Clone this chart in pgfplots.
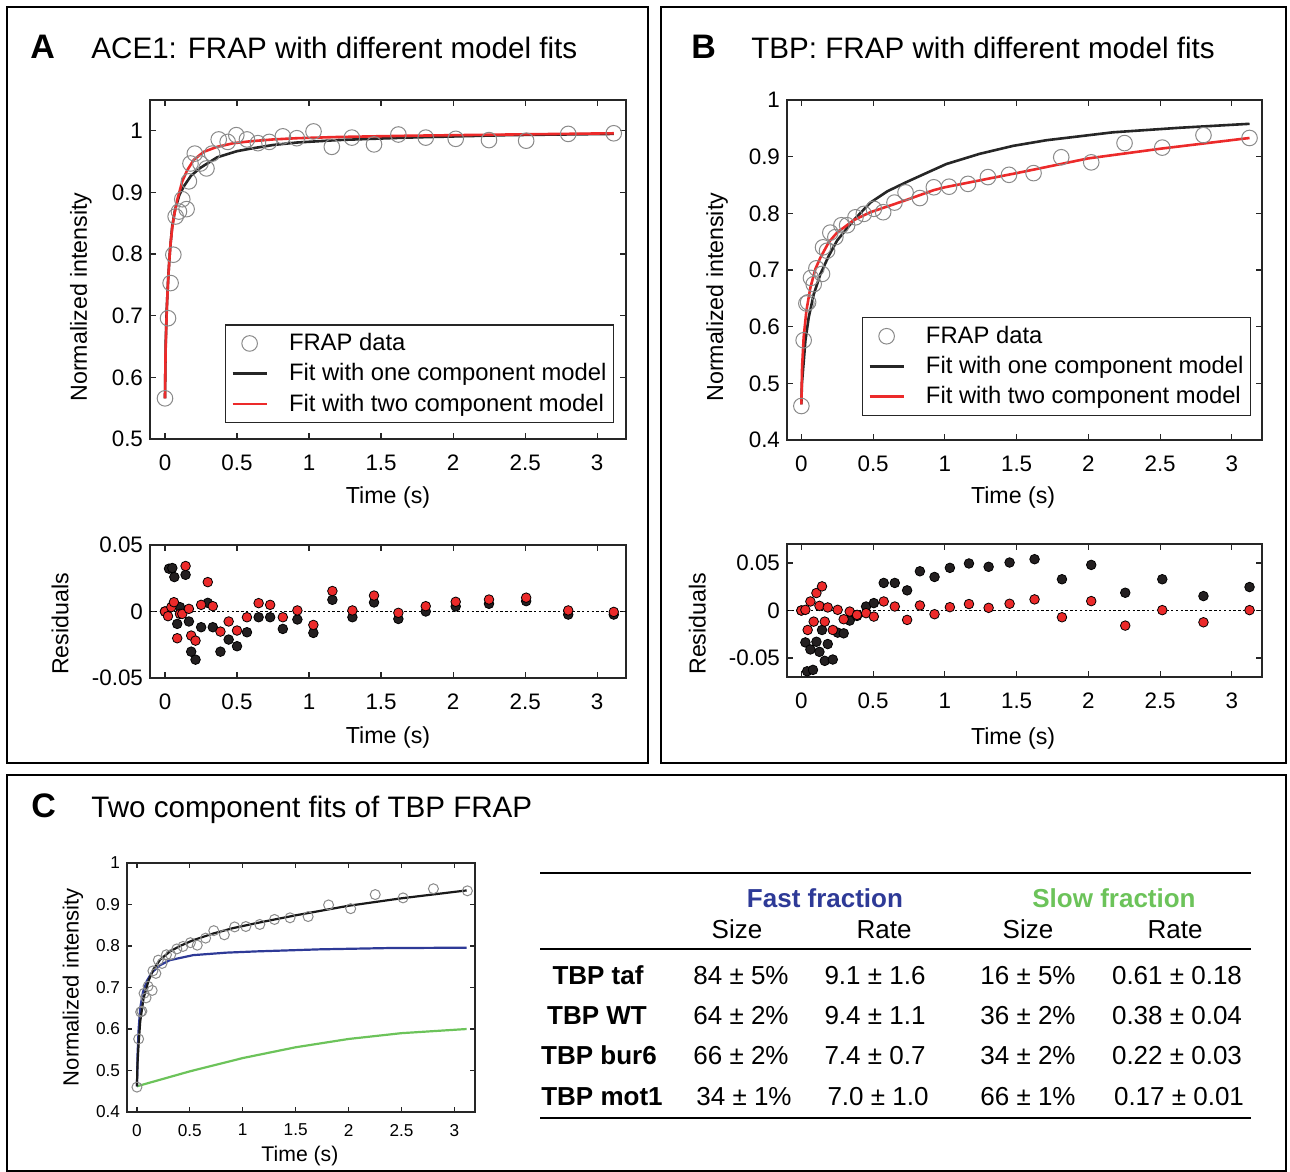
\documentclass[border=0pt]{standalone}
\usepackage{fontspec}
\setmainfont{Liberation Sans}
\usepackage{pgfplots}
\usepackage{pgfplotstable}
\pgfplotsset{compat=1.18}

\definecolor{fitred}{HTML}{EC2A2A}
\definecolor{fitblack}{HTML}{262626}
\definecolor{dotblack}{HTML}{231F20}
\definecolor{fastblue}{HTML}{2E3A97}
\definecolor{slowgreen}{HTML}{6CC35A}
\definecolor{datagray}{HTML}{8A8A8A}

% ACE1 recovery
\pgfplotstableread{
t I
0 0.566
0.021 0.696
0.039 0.753
0.058 0.799
0.074 0.861
0.097 0.869
0.120 0.889
0.150 0.873
0.166 0.918
0.177 0.947
0.207 0.963
0.246 0.947
0.288 0.939
0.327 0.963
0.373 0.986
0.435 0.982
0.495 0.993
0.569 0.986
0.645 0.980
0.724 0.982
0.818 0.991
0.915 0.988
1.031 0.999
1.158 0.974
1.297 0.989
1.451 0.978
1.620 0.994
1.810 0.989
2.018 0.987
2.249 0.985
2.507 0.984
2.799 0.995
3.115 0.996
}\acedata
\pgfplotstableread{
t I
0 0.566
0.005 0.656
0.012 0.710
0.023 0.764
0.035 0.807
0.050 0.845
0.070 0.872
0.100 0.896
0.131 0.910
0.180 0.927
0.246 0.940
0.362 0.957
0.500 0.967
0.592 0.971
0.750 0.977
0.915 0.981
1.200 0.985
1.680 0.989
2.380 0.993
3.115 0.995
}\aceone
\pgfplotstableread{
t I
0 0.566
0.004 0.640
0.009 0.683
0.015 0.725
0.021 0.753
0.030 0.790
0.039 0.818
0.050 0.842
0.062 0.861
0.085 0.888
0.120 0.918
0.154 0.936
0.200 0.953
0.270 0.966
0.362 0.974
0.477 0.980
0.592 0.983
0.750 0.986
0.915 0.988
1.200 0.990
1.680 0.992
2.380 0.994
3.115 0.996
}\acetwo
\pgfplotstableread{
t r
0 0
0.028 0.0322
0.051 0.0327
0.065 0.0259
0.085 -0.0093
0.104 0.0033
0.143 0.0276
0.166 -0.0075
0.182 -0.0302
0.212 -0.0362
0.251 -0.0118
0.297 0.0065
0.332 -0.0118
0.385 -0.0302
0.442 -0.0211
0.500 -0.0261
0.569 -0.0156
0.650 -0.0043
0.730 -0.0043
0.818 -0.0131
0.919 -0.0060
1.030 -0.0161
1.162 0.0088
1.301 -0.0043
1.451 0.0068
1.620 -0.0056
1.810 0.0000
2.018 0.0038
2.249 0.0058
2.507 0.0078
2.799 -0.0023
3.115 -0.0023
}\aceresone
\pgfplotstableread{
t r
0 0
0.021 -0.0035
0.044 0.0033
0.062 0.0070
0.085 -0.0201
0.104 -0.0018
0.120 -0.0018
0.143 0.0342
0.166 0.0020
0.182 -0.0181
0.212 -0.0219
0.251 0.0050
0.297 0.0221
0.332 0.0040
0.385 -0.0151
0.442 -0.0075
0.500 -0.0143
0.569 -0.0043
0.650 0.0063
0.730 0.0050
0.818 -0.0043
0.919 0.0008
1.030 -0.0101
1.162 0.0154
1.301 0.0008
1.451 0.0120
1.620 -0.0010
1.810 0.0040
2.018 0.0073
2.249 0.0090
2.507 0.0104
2.799 0.0008
3.115 -0.0003
}\acerestwo

% TBP recovery
\pgfplotstableread{
t I
0 0.460
0.016 0.576
0.035 0.641
0.047 0.643
0.067 0.686
0.086 0.675
0.105 0.703
0.144 0.693
0.151 0.740
0.179 0.734
0.202 0.766
0.237 0.758
0.279 0.779
0.319 0.779
0.377 0.793
0.435 0.799
0.505 0.808
0.570 0.802
0.649 0.819
0.726 0.837
0.826 0.827
0.923 0.846
1.029 0.847
1.161 0.852
1.300 0.864
1.447 0.868
1.618 0.871
1.811 0.899
2.020 0.890
2.252 0.924
2.515 0.916
2.802 0.938
3.123 0.933
}\tbpdata
\pgfplotstableread{
t I
0 0.463
0.004 0.500
0.016 0.537
0.028 0.575
0.051 0.616
0.086 0.657
0.133 0.693
0.191 0.725
0.249 0.752
0.365 0.788
0.481 0.819
0.600 0.839
0.731 0.855
0.870 0.871
1.010 0.887
1.242 0.905
1.474 0.919
1.707 0.929
2.171 0.943
2.635 0.951
3.123 0.958
}\tbpone
\pgfplotstableread{
t I
0 0.463
0.005 0.528
0.016 0.581
0.035 0.628
0.063 0.669
0.098 0.702
0.133 0.722
0.191 0.749
0.249 0.766
0.365 0.788
0.481 0.802
0.598 0.812
0.714 0.822
0.923 0.841
1.000 0.846
1.500 0.871
2.000 0.897
2.500 0.914
3.123 0.933
}\tbptwo
\pgfplotstableread{
t r
0 0
0.028 -0.0336
0.040 -0.0640
0.063 -0.0410
0.081 -0.0625
0.105 -0.0329
0.126 -0.0435
0.144 -0.0205
0.163 -0.0530
0.184 -0.0353
0.219 -0.0516
0.253 -0.0233
0.295 -0.0240
0.337 -0.0106
0.388 -0.0057
0.451 0.0042
0.505 0.0078
0.574 0.0290
0.651 0.0290
0.737 0.0212
0.826 0.0413
0.928 0.0353
1.035 0.0449
1.168 0.0495
1.305 0.0460
1.451 0.0505
1.625 0.0540
1.816 0.0329
2.020 0.0480
2.257 0.0187
2.515 0.0329
2.802 0.0152
3.123 0.0247
}\tbpresone
\pgfplotstableread{
t r
0 0
0.028 0.0007
0.044 -0.0205
0.063 0.0095
0.086 -0.0117
0.105 0.0184
0.126 0.0049
0.144 0.0254
0.163 -0.0117
0.184 0.0032
0.219 -0.0205
0.253 0.0007
0.295 -0.0092
0.337 -0.0011
0.388 -0.0046
0.451 -0.0028
0.505 -0.0064
0.574 0.0095
0.651 0.0042
0.737 -0.0099
0.826 0.0053
0.928 -0.0039
1.035 0.0035
1.168 0.0068
1.305 0.0028
1.451 0.0071
1.625 0.0117
1.816 -0.0071
2.020 0.0099
2.257 -0.0159
2.515 0.0004
2.802 -0.0124
3.123 0.0004
}\tbprestwo

% TBP two component split
\pgfplotstableread{
t I
0 0.462
0.006 0.520
0.016 0.565
0.031 0.618
0.0625 0.674
0.109 0.716
0.156 0.744
0.219 0.767
0.3125 0.787
0.406 0.800
0.531 0.814
0.719 0.830
0.906 0.843
1.125 0.855
1.500 0.874
2.000 0.897
2.500 0.915
3.116 0.934
}\tbptotal
\pgfplotstableread{
t I
0 0.462
0.003 0.500
0.006 0.540
0.016 0.600
0.031 0.650
0.056 0.688
0.094 0.716
0.141 0.736
0.219 0.754
0.3125 0.766
0.531 0.778
0.844 0.784
1.125 0.787
1.730 0.792
2.360 0.795
3.116 0.796
}\tbpfast
\pgfplotstableread{
t I
0 0.462
0.500 0.498
1.000 0.530
1.500 0.556
2.000 0.576
2.500 0.590
3.116 0.600
}\tbpslow

\pgfplotsset{
  frap/.style={
    scale only axis,
    scaled ticks=false,
    axis line style={line width=0.7pt, black!85},
    tick align=inside, tick pos=both,
    major tick length=3pt,
    every tick/.style={black!85, line width=0.6pt},
    tick label style={font=\fontsize{11.2}{13}\selectfont},
    label style={font=\fontsize{11.6}{14}\selectfont},
    xtick={0,0.5,1,1.5,2,2.5,3},
    xticklabels={0,0.5,1,1.5,2,2.5,3},
  },
  datamark/.style={only marks, mark=o, mark size=3.9pt, mark options={datagray, line width=0.5pt}},
  resdot/.style={only marks, mark=*, mark size=2.4pt, mark options={draw=none, fill=#1}},
  fitline/.style={color=#1, line width=1.3pt, mark=none},
  frapleg/.style={legend style={draw=black!85, line width=0.6pt, font=\fontsize{11.9}{14}\selectfont,
    inner xsep=3pt, inner ysep=2.2pt, row sep=1pt, nodes={inner xsep=0.5pt},
    /tikz/every odd column/.append style={column sep=10pt}}, legend cell align=left},
}

\begin{document}
\begin{tikzpicture}
\useasboundingbox (0,0) rectangle (645pt,-586pt);

% panel frames
\draw[line width=0.75pt] (3.5pt,-3.5pt) rectangle (324pt,-381.5pt);
\draw[line width=0.75pt] (330.5pt,-3.5pt) rectangle (643pt,-381.5pt);
\draw[line width=0.75pt] (3.5pt,-387.5pt) rectangle (643pt,-585.5pt);

% titles
\node[anchor=base west, inner sep=0, font=\fontsize{17}{20}\selectfont\bfseries] at (15pt,-29.5pt) {A};
\node[anchor=base west, inner sep=0, font=\fontsize{14.8}{17}\selectfont] at (45.5pt,-29.5pt) {ACE1: FRAP with different model fits};
\node[anchor=base west, inner sep=0, font=\fontsize{17}{20}\selectfont\bfseries] at (345.5pt,-29.5pt) {B};
\node[anchor=base west, inner sep=0, font=\fontsize{14.8}{17}\selectfont] at (375.5pt,-29.5pt) {TBP: FRAP with different model fits};
\node[anchor=base west, inner sep=0, font=\fontsize{17}{20}\selectfont\bfseries] at (15.5pt,-408.5pt) {C};
\node[anchor=base west, inner sep=0, font=\fontsize{14.8}{17}\selectfont] at (45.5pt,-408.5pt) {Two component fits of TBP FRAP};

% A: ACE1 recovery
\begin{axis}[frap, frapleg, at={(75pt,-219.5pt)}, anchor=south west, width=238pt, height=169.5pt,
  xticklabel style={yshift=-4.5pt},
  xmin=-0.104, xmax=3.2, ymin=0.5, ymax=1.05,
  ytick={0.5,0.6,0.7,0.8,0.9,1}, yticklabels={0.5,0.6,0.7,0.8,0.9,1},
  xlabel={Time (s)}, ylabel={Normalized intensity},
  x label style={at={(axis description cs:0.5,-0.174)}, anchor=center},
  y label style={at={(axis description cs:-0.145,0.419)}, anchor=center},
  legend style={at={(0.975,0.047)}, anchor=south east}]
\addplot[datamark] table[x=t, y=I] {\acedata};
\addplot[fitline=fitblack] table[x=t, y=I] {\aceone};
\addplot[fitline=fitred] table[x=t, y=I] {\acetwo};
\legend{FRAP data, Fit with one component model, Fit with two component model}
\end{axis}

% A: residuals
\begin{axis}[frap, at={(75pt,-339pt)}, anchor=south west, width=238pt, height=66.5pt,
  xticklabel style={yshift=-4.5pt},
  xmin=-0.104, xmax=3.2, ymin=-0.05, ymax=0.05,
  ytick={-0.05,0,0.05}, yticklabels={-0.05,0,0.05},
  xlabel={Time (s)}, ylabel={Residuals},
  x label style={at={(axis description cs:0.5,-0.451)}, anchor=center},
  y label style={at={(axis description cs:-0.189,0.406)}, anchor=center}]
\addplot[black, line width=0.6pt, dash pattern=on 1.2pt off 1.2pt] coordinates {(-0.104,0) (3.2,0)};
\addplot[resdot=dotblack] table[x=t, y=r] {\aceresone};
\addplot[resdot=fitred] table[x=t, y=r] {\acerestwo};
\end{axis}

% B: TBP recovery
\begin{axis}[frap, frapleg, at={(393.5pt,-220pt)}, anchor=south west, width=237.5pt, height=170pt,
  xticklabel style={yshift=-4.5pt},
  xmin=-0.10, xmax=3.21, ymin=0.4, ymax=1,
  ytick={0.4,0.5,0.6,0.7,0.8,0.9,1}, yticklabels={0.4,0.5,0.6,0.7,0.8,0.9,1},
  xlabel={Time (s)}, ylabel={Normalized intensity},
  x label style={at={(axis description cs:0.476,-0.168)}, anchor=center},
  y label style={at={(axis description cs:-0.147,0.42)}, anchor=center},
  legend style={at={(0.977,0.071)}, anchor=south east}]
\addplot[datamark] table[x=t, y=I] {\tbpdata};
\addplot[fitline=fitblack] table[x=t, y=I] {\tbpone};
\addplot[fitline=fitred] table[x=t, y=I] {\tbptwo};
\legend{FRAP data, Fit with one component model, Fit with two component model}
\end{axis}

% B: residuals
\begin{axis}[frap, at={(393.5pt,-338.5pt)}, anchor=south west, width=237.5pt, height=66.5pt,
  xticklabel style={yshift=-4.5pt},
  xmin=-0.10, xmax=3.21, ymin=-0.07, ymax=0.07,
  ytick={-0.05,0,0.05}, yticklabels={-0.05,0,0.05},
  xlabel={Time (s)}, ylabel={Residuals},
  x label style={at={(axis description cs:0.476,-0.459)}, anchor=center},
  y label style={at={(axis description cs:-0.189,0.40)}, anchor=center}]
\addplot[black, line width=0.6pt, dash pattern=on 1.2pt off 1.2pt] coordinates {(-0.10,0) (3.21,0)};
\addplot[resdot=dotblack] table[x=t, y=r] {\tbpresone};
\addplot[resdot=fitred] table[x=t, y=r] {\tbprestwo};
\end{axis}

% C: two component split
\begin{axis}[frap, at={(63.5pt,-556pt)}, anchor=south west, width=174pt, height=124.5pt,
  xmin=-0.094, xmax=3.195, ymin=0.4, ymax=1,
  ytick={0.4,0.5,0.6,0.7,0.8,0.9,1}, yticklabels={0.4,0.5,0.6,0.7,0.8,0.9,1},
  major tick length=2.5pt,
  tick label style={font=\fontsize{8.6}{10}\selectfont},
  xticklabel style={yshift=-2.5pt},
  x label style={font=\fontsize{10.6}{12}\selectfont, at={(axis description cs:0.497,-0.177)}, anchor=center},
  y label style={font=\fontsize{11}{13}\selectfont, at={(axis description cs:-0.155,0.502)}, anchor=center},
  xlabel={Time (s)}, ylabel={Normalized intensity}]
\addplot[only marks, mark=o, mark size=2.5pt, mark options={datagray, line width=0.5pt}] table[x=t, y=I] {\tbpdata};
\addplot[slowgreen, line width=1.1pt] table[x=t, y=I] {\tbpslow};
\addplot[fastblue, line width=1.1pt] table[x=t, y=I] {\tbpfast};
\addplot[black!90, line width=1.1pt] table[x=t, y=I] {\tbptotal};
\end{axis}

% C: table
\draw[line width=0.7pt] (270pt,-436.5pt) -- (625.5pt,-436.5pt);
\draw[line width=0.7pt] (270pt,-474.5pt) -- (625.5pt,-474.5pt);
\draw[line width=0.7pt] (270pt,-559pt) -- (625.5pt,-559pt);
\begin{scope}[every node/.style={anchor=base, inner sep=0, font=\fontsize{13}{15}\selectfont}]
\node[text=fastblue, font=\fontsize{13}{15}\selectfont\bfseries] at (412.5pt,-453.5pt) {Fast fraction};
\node[text=slowgreen, font=\fontsize{13}{15}\selectfont\bfseries] at (557pt,-453.5pt) {Slow fraction};
\node at (368.5pt,-469pt) {Size};
\node at (442pt,-469pt) {Rate};
\node at (514pt,-469pt) {Size};
\node at (587.5pt,-469pt) {Rate};
\node[font=\fontsize{13}{15}\selectfont\bfseries] at (299pt,-492pt) {TBP taf};
\node at (370.5pt,-492pt) {84 ± 5\%};
\node at (437.5pt,-492pt) {9.1 ± 1.6};
\node at (514pt,-492pt) {16 ± 5\%};
\node at (588.5pt,-492pt) {0.61 ± 0.18};
\node[font=\fontsize{13}{15}\selectfont\bfseries] at (298.5pt,-512pt) {TBP WT};
\node at (370.5pt,-512pt) {64 ± 2\%};
\node at (437.5pt,-512pt) {9.4 ± 1.1};
\node at (514pt,-512pt) {36 ± 2\%};
\node at (588.5pt,-512pt) {0.38 ± 0.04};
\node[font=\fontsize{13}{15}\selectfont\bfseries] at (299.5pt,-532pt) {TBP bur6};
\node at (370.5pt,-532pt) {66 ± 2\%};
\node at (437.5pt,-532pt) {7.4 ± 0.7};
\node at (514pt,-532pt) {34 ± 2\%};
\node at (588.5pt,-532pt) {0.22 ± 0.03};
\node[font=\fontsize{13}{15}\selectfont\bfseries] at (301pt,-552.5pt) {TBP mot1};
\node at (372pt,-552.5pt) {34 ± 1\%};
\node at (439pt,-552.5pt) {7.0 ± 1.0};
\node at (514pt,-552.5pt) {66 ± 1\%};
\node at (589.5pt,-552.5pt) {0.17 ± 0.01};
\end{scope}
\end{tikzpicture}
\end{document}
